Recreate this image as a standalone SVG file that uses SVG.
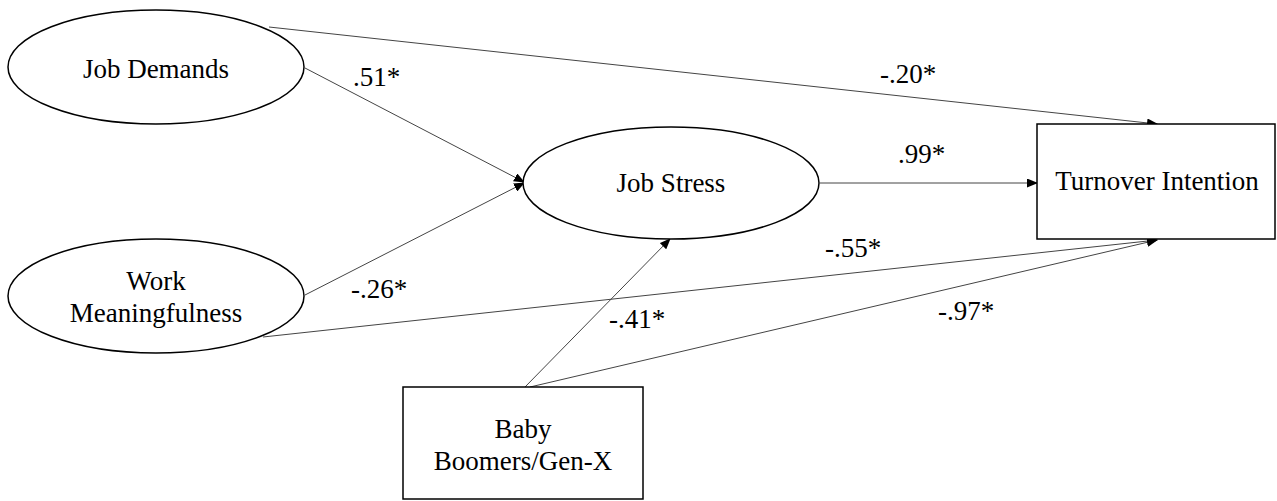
<svg xmlns="http://www.w3.org/2000/svg" width="1277" height="501" viewBox="0 0 1277 501">
<style>
.node{fill:#fff;stroke:#000;stroke-width:1.5}
text{font-family:'Liberation Serif','DejaVu Serif',serif;font-size:27px;fill:#000}
.t{text-anchor:middle}
.c{stroke:#444;stroke-width:1;fill:none;marker-end:url(#ah)}
</style>
<defs>
<marker id="ah" markerWidth="11" markerHeight="9" refX="10" refY="4.5" orient="auto" markerUnits="userSpaceOnUse">
<path d="M0,0 L11,4.5 L0,9 Z" fill="#000"/>
</marker>
</defs>
<rect width="1277" height="501" fill="#fff"/>
<g id="connectors" font-family="Liberation Serif, serif">
<line class="c" x1="269" y1="27" x2="1157" y2="124"/>
<line class="c" x1="305" y1="68" x2="524" y2="182"/>
<line class="c" x1="305" y1="295" x2="524" y2="183"/>
<line class="c" x1="263" y1="337" x2="1157" y2="240"/>
<line class="c" x1="525" y1="387" x2="670" y2="239"/>
<line class="c" x1="530" y1="387" x2="1157" y2="240"/>
<line class="c" x1="820" y1="183" x2="1037" y2="183"/>
<text x="353" y="86">.51*</text>
<text x="880" y="83">-.20*</text>
<text x="898" y="163">.99*</text>
<text x="825" y="257">-.55*</text>
<text x="351" y="298">-.26*</text>
<text x="609" y="328">-.41*</text>
<text x="938" y="320">-.97*</text>
</g>
<g id="job-demands">
<ellipse class="node" cx="156" cy="67" rx="148" ry="57"/>
<text class="t" x="156" y="78">Job Demands</text>
</g>
<g id="work-meaningfulness">
<ellipse class="node" cx="156" cy="296" rx="148" ry="57"/>
<text class="t" x="156" y="290">Work</text>
<text class="t" x="156" y="322">Meaningfulness</text>
</g>
<g id="job-stress">
<ellipse class="node" cx="671" cy="183" rx="148" ry="56"/>
<text class="t" x="671" y="192">Job Stress</text>
</g>
<g id="turnover-intention">
<rect class="node" x="1037" y="124" width="238" height="115"/>
<text class="t" x="1157" y="190">Turnover Intention</text>
</g>
<g id="baby-boomers">
<rect class="node" x="403" y="387" width="240" height="112"/>
<text class="t" x="523" y="438">Baby</text>
<text class="t" x="523" y="470">Boomers/Gen-X</text>
</g>
</svg>
